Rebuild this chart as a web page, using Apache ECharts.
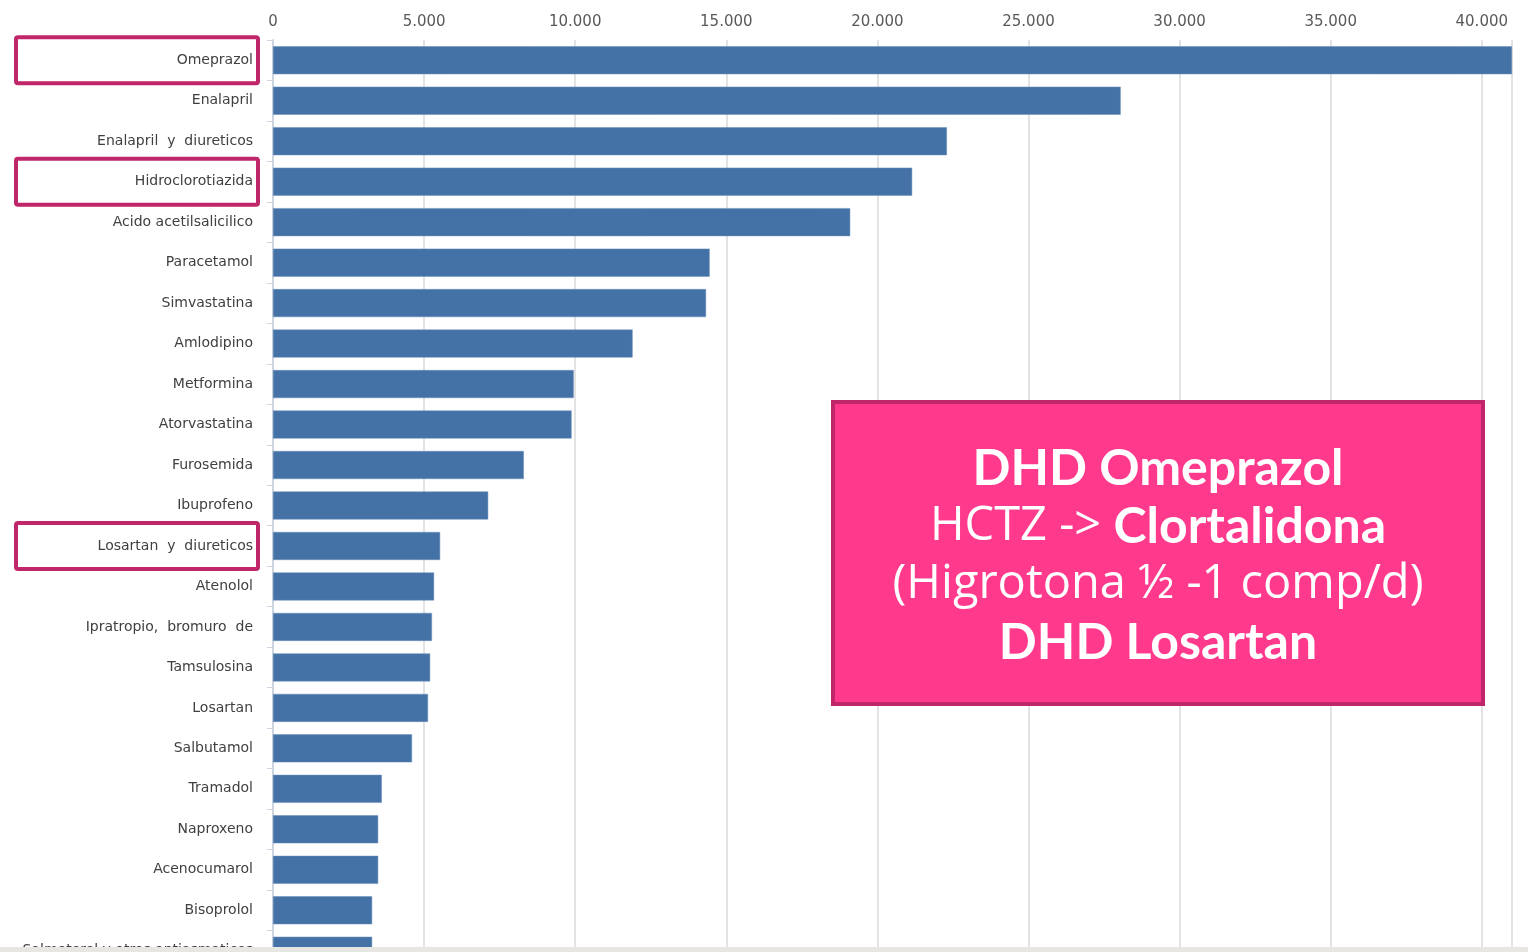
<!DOCTYPE html>
<html>
<head>
<meta charset="utf-8">
<script src="https://cdn.jsdelivr.net/npm/echarts@6/dist/echarts.min.js"></script>
<style>
  html, body { margin: 0; padding: 0; background: #fff; }
  #main { width: 1528px; height: 952px; }
</style>
</head>
<body>
<div id="main"></div>
<script>
// principios activos, de mayor a menor
var categories = ['Omeprazol', 'Enalapril', 'Enalapril  y  diureticos', 'Hidroclorotiazida',
  'Acido acetilsalicilico', 'Paracetamol', 'Simvastatina', 'Amlodipino', 'Metformina',
  'Atorvastatina', 'Furosemida', 'Ibuprofeno', 'Losartan  y  diureticos', 'Atenolol',
  'Ipratropio,  bromuro  de', 'Tamsulosina', 'Losartan', 'Salbutamol', 'Tramadol',
  'Naproxeno', 'Acenocumarol', 'Bisoprolol', 'Salmeterol y otros antiasmaticos'];
var values = [41000, 28050, 22300, 21150, 19100, 14450, 14330, 11900, 9950,
  9880, 8300, 7120, 5530, 5330, 5260, 5200, 5130, 4600, 3600,
  3480, 3480, 3280, 3280];
// etiquetas resaltadas con recuadro
var highlighted = ['Omeprazol', 'Hidroclorotiazida', 'Losartan  y  diureticos'];

var chart = echarts.init(document.getElementById('main'));

var option = {
  animation: false,
  grid: { left: 273, right: 16, top: 40, height: 931, outerBoundsMode: 'none' },
  xAxis: {
    type: 'value',
    position: 'top',
    min: 0,
    max: 41000,
    interval: 5000,
    axisLine: { show: false },
    axisTick: { show: false },
    axisLabel: {
      color: '#595959',
      fontSize: 15,
      fontFamily: 'DejaVu Sans',
      margin: 10,
      showMaxLabel: false,
      formatter: function (v) {
        return v === 0 ? '0' : (v / 1000) + '.000';
      }
    },
    splitLine: { lineStyle: { color: '#e3e3e3', width: 2 } }
  },
  yAxis: {
    type: 'category',
    inverse: true,
    data: categories,
    axisLine: { lineStyle: { color: '#cdd5e0', width: 2 } },
    axisTick: { show: true, length: 6, lineStyle: { color: '#cdd5e0' } },
    axisLabel: {
      color: '#404040',
      fontSize: 14,
      fontFamily: 'DejaVu Sans',
      margin: 20
    }
  },
  series: [{
    type: 'bar',
    data: values,
    barWidth: 28,
    itemStyle: { color: '#4472a6', borderColor: '#6a8fbb', borderWidth: 0.5 }
  }]
};
chart.setOption(option);

// recuadros sobre las etiquetas y caja de texto
var graphics = [];
highlighted.forEach(function (name) {
  var y = chart.convertToPixel({ yAxisIndex: 0 }, name);
  graphics.push({
    type: 'rect',
    shape: { x: 16, y: y - 23, width: 242, height: 46, r: 2 },
    style: { fill: 'none', stroke: '#c0266a', lineWidth: 4 },
    z: 100
  });
});
graphics.push({
  type: 'rect',
  shape: { x: 833, y: 402, width: 650, height: 302 },
  style: { fill: '#ff3a8c', stroke: '#c0266a', lineWidth: 4 },
  z: 100
});
graphics.push({
  type: 'text',
  x: 1158,
  y: 556,
  z: 101,
  style: {
    text: '{b|DHD Omeprazol}\n{r|HCTZ -> }{b|Clortalidona}\n{r|(Higrotona ½ -1 comp/d)}\n{b|DHD Losartan}',
    align: 'center',
    verticalAlign: 'middle',
    fill: '#fff',
    rich: {
      b: { fontFamily: 'Lato', fontWeight: 'bold', fontSize: 50, lineHeight: 58, fill: '#fff' },
      r: { fontFamily: 'Open Sans', fontWeight: 'normal', fontSize: 47, lineHeight: 58, fill: '#fff' }
    }
  }
});
graphics.push({
  type: 'rect',
  shape: { x: 0, y: 947, width: 1528, height: 5 },
  style: { fill: '#e8e6e2' },
  z: 100
});
chart.setOption({ graphic: graphics });
</script>
</body>
</html>
